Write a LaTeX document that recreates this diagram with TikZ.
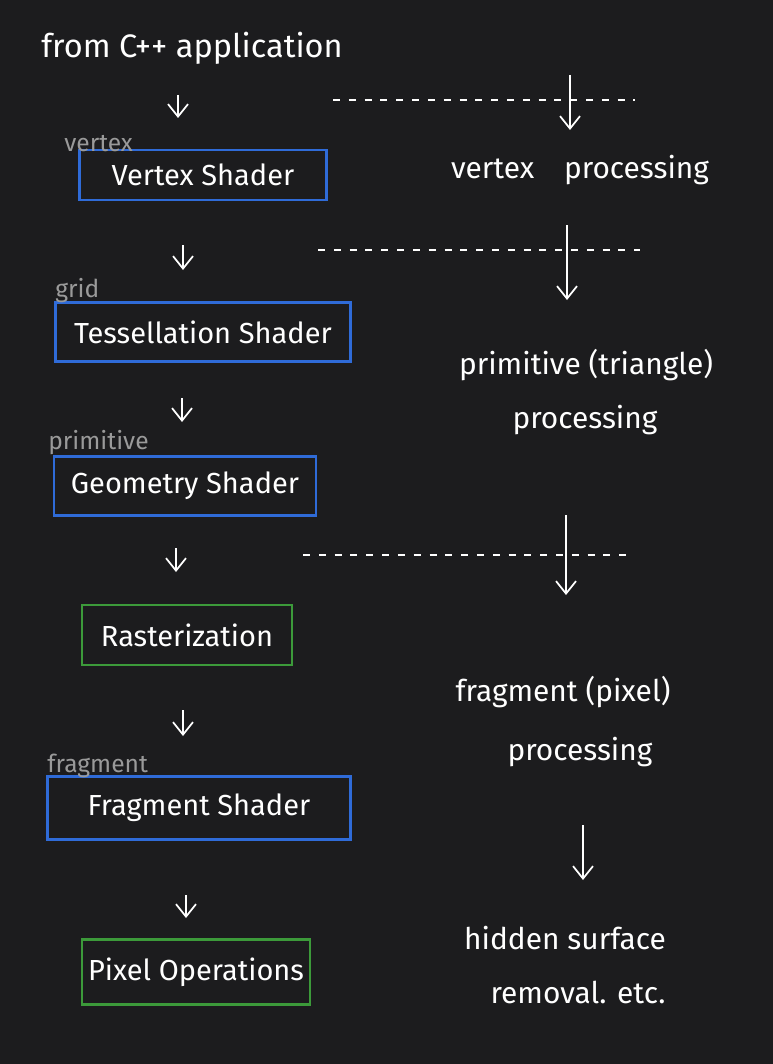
\documentclass[tikz,border=0pt]{standalone}
\usepackage{fontspec}
\setmainfont{Fira Sans}
\usetikzlibrary{arrows.meta}
\definecolor{bg}{HTML}{1C1C1E}
\definecolor{shblue}{HTML}{2F6BD8}
\definecolor{fxgreen}{HTML}{3C9A3A}
\definecolor{tagcol}{HTML}{9A9A9A}
\begin{document}
\begin{tikzpicture}[x=0.02cm,y=-0.02cm, every node/.style={text=white,inner sep=0pt,font=\fontsize{17}{20}\selectfont},
  shader/.style={draw=shblue,line width=1.3pt,font=\fontsize{16.5}{20}\selectfont}, fixed/.style={draw=fxgreen,line width=1.3pt,font=\fontsize{16.5}{20}\selectfont},
  tag/.style={text=tagcol,anchor=south west,font=\fontsize{14}{16}\selectfont},
  arr/.style={draw=white,line width=1pt,-{Straight Barb[length=2.5mm,width=4mm]}},
  sep/.style={draw=white,line width=0.8pt,dash pattern=on 4pt off 5pt}]
\useasboundingbox (0,0) rectangle (773,1064);
\fill[bg] (0,0) rectangle (773,1064);
% left column
\node[font=\fontsize{18.5}{21}\selectfont] (app) at (192,48) {from C++ application};
\node[shader,minimum width=4.94cm,minimum height=1cm] (vs) at (203,175) {Vertex Shader}; \node[tag] (vtag) at (64,152) {vertex};
\node[shader,minimum width=5.9cm,minimum height=1.18cm] (ts) at (203,332) {Tessellation Shader}; \node[tag] (gtag) at (55,303) {grid};
\node[shader,minimum width=5.24cm,minimum height=1.18cm] (gs) at (185,486) {Geometry Shader}; \node[tag] (ptag) at (48,455) {primitive};
\node[fixed,minimum width=4.2cm,minimum height=1.2cm] (ra) at (187,635) {Rasterization};
\node[shader,minimum width=6.06cm,minimum height=1.26cm] (fs) at (199,808) {Fragment Shader}; \node[tag] (ftag) at (47,778) {fragment};
\node[fixed,minimum width=4.56cm,minimum height=1.3cm] (po) at (196,972) {Pixel Operations};
\foreach \x/\ya/\yb/\n in {178/95/118/1, 183/245/270/2, 182/398/422/3, 176/548/572/4, 183/710/736/5, 186/895/918/6}
  {\coordinate (s\n) at (\x,\ya); \coordinate (e\n) at (\x,\yb); \draw[arr] (s\n) -- (e\n);}
% right column
\node (vp) at (580,170) {vertex\quad processing};
\node (pp1) at (586,365) {primitive (triangle)}; \node (pp2) at (585,420) {processing};
\node (fp1) at (563,692) {fragment (pixel)}; \node (fp2) at (580,752) {processing};
\node (hs1) at (565,938) {hidden surface}; \node (hs2) at (578,992) {removal. etc.};
\foreach \xa/\xb/\y/\n in {333/635/100/a, 318/640/250/b, 303/635/555/c}
  {\coordinate (l\n) at (\xa,\y); \coordinate (r\n) at (\xb,\y); \draw[sep] (l\n) -- (r\n);}
\foreach \x/\ya/\yb/\n in {570/75/130/a, 567/225/300/b, 566/515/595/c, 583/825/880/d}
  {\coordinate (t\n) at (\x,\ya); \coordinate (b\n) at (\x,\yb); \draw[arr] (t\n) -- (b\n);}
\end{tikzpicture}
\end{document}
